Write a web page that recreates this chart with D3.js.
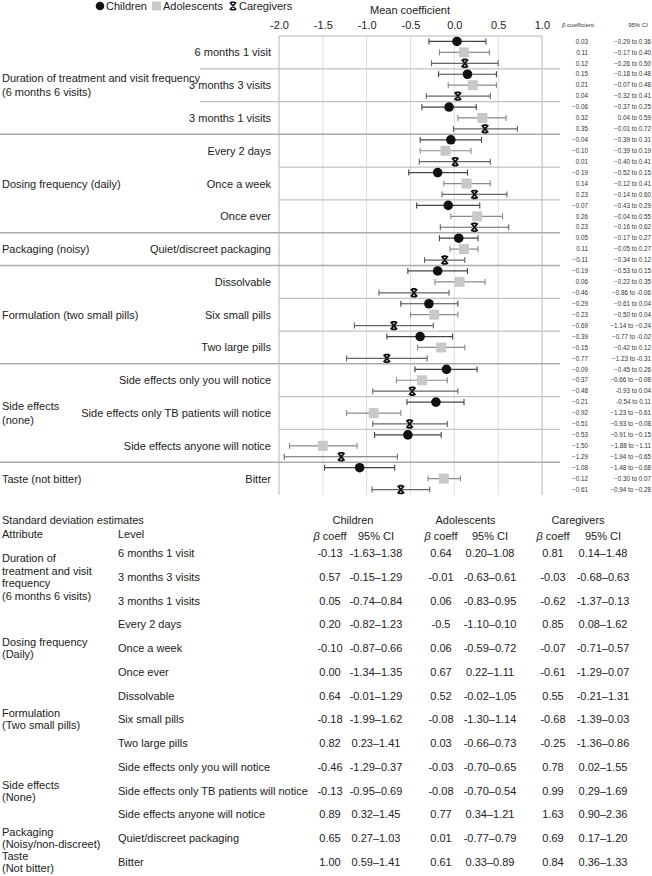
<!DOCTYPE html>
<html><head><meta charset="utf-8">
<script src="https://cdn.jsdelivr.net/npm/d3@7"></script>
<style>
html,body{margin:0;padding:0;background:#fff;}
svg{display:block;font-family:"Liberation Sans",Arial,Helvetica,sans-serif;}
</style></head>
<body>
<svg id="chart" width="652" height="876"></svg>
<script>
// ---------- DATA: forest plot ----------
const series = ["Children", "Adolescents", "Caregivers"];
const groups = [
  "Duration of treatment and visit frequency|(6 months 6 visits)",
  "Dosing frequency (daily)",
  "Packaging (noisy)",
  "Formulation (two small pills)",
  "Side effects|(none)",
  "Taste (not bitter)"
];
const levelGroup = [0,0,0,1,1,1,2,3,3,3,4,4,4,5];
const levels = ["6 months 1 visit","3 months 3 visits","3 months 1 visits","Every 2 days","Once a week","Once ever","Quiet/discreet packaging","Dissolvable","Six small pills","Two large pills","Side effects only you will notice","Side effects only TB patients will notice","Side effects anyone will notice","Bitter"];
const childBeta = [0.03,0.15,-0.06,-0.04,-0.19,-0.07,0.05,-0.19,-0.29,-0.39,-0.09,-0.21,-0.53,-1.08];
const childLo   = [-0.29,-0.18,-0.37,-0.39,-0.52,-0.43,-0.17,-0.53,-0.61,-0.77,-0.45,-0.54,-0.91,-1.48];
const childHi   = [0.36,0.48,0.25,0.31,0.15,0.29,0.27,0.15,0.04,-0.02,0.26,0.11,-0.15,-0.68];
const adolBeta  = [0.11,0.21,0.32,-0.10,0.14,0.26,0.11,0.06,-0.23,-0.15,-0.37,-0.92,-1.50,-0.12];
const adolLo    = [-0.17,-0.07,0.04,-0.39,-0.12,-0.04,-0.05,-0.22,-0.50,-0.42,-0.66,-1.23,-1.88,-0.30];
const adolHi    = [0.40,0.48,0.59,0.19,0.41,0.55,0.27,0.35,0.04,0.12,-0.08,-0.61,-1.11,0.07];
const careBeta  = [0.12,0.04,0.35,0.01,0.23,0.23,-0.11,-0.46,-0.69,-0.77,-0.48,-0.51,-1.29,-0.61];
const careLo    = [-0.26,-0.32,-0.01,-0.40,-0.14,-0.16,-0.34,-0.86,-1.14,-1.23,-0.93,-0.93,-1.94,-0.94];
const careHi    = [0.50,0.41,0.72,0.41,0.60,0.62,0.12,-0.06,-0.24,-0.31,0.04,-0.08,-0.65,-0.28];
const childCIText = ["\u22120.29 to 0.36","\u22120.18 to 0.48","\u22120.37 to 0.25","\u22120.39 to 0.31","\u22120.52 to 0.15","\u22120.43 to 0.29","\u22120.17 to 0.27","\u22120.53 to 0.15","\u22120.61 to 0.04","\u22120.77 to -0.02","\u22120.45 to 0.26","-0.54 to 0.11","\u22120.91 to \u22120.15","\u22121.48 to \u22120.68"];
const adolCIText  = ["\u22120.17 to 0.40","\u22120.07 to 0.48","0.04 to 0.59","\u22120.39 to 0.19","\u22120.12 to 0.41","\u22120.04 to 0.55","\u22120.05 to 0.27","\u22120.22 to 0.35","\u22120.50 to 0.04","\u22120.42 to 0.12","\u22120.66 to \u22120.08","\u22121.23 to \u22120.61","\u22121.88 to \u22121.11","\u22120.30 to 0.07"];
const careCIText  = ["\u22120.26 to 0.50","\u22120.32 to 0.41","\u22120.01 to 0.72","\u22120.40 to 0.41","\u22120.14 to 0.60","\u22120.16 to 0.62","\u22120.34 to 0.12","\u22120.86 to -0.06","\u22121.14 to \u22120.24","\u22121.23 to -0.31","-0.93 to  0.04","\u22120.93 to \u22120.08","\u22121.94 to \u22120.65","\u22120.94 to \u22120.28"];
const xTicks = [-2,-1.5,-1,-0.5,0,0.5,1];
const xTickLabels = ["-2.0","-1.5","-1.0","-0.5","0.0","0.5","1.0"];

// ---------- DATA: SD table ----------
const sdAttributes = [
  {label:["Duration of","treatment and visit","frequency","(6 months 6 visits)"], rows:[0,2]},
  {label:["Dosing frequency","(Daily)"], rows:[3,5]},
  {label:["Formulation","(Two small pills)"], rows:[6,8]},
  {label:["Side effects","(None)"], rows:[9,11]},
  {label:["Packaging","(Noisy/non-discreet)"], rows:[12,12]},
  {label:["Taste","(Not bitter)"], rows:[13,13]}
];
const sdLevels = ["6 months 1 visit","3 months 3 visits","3 months 1 visits","Every 2 days","Once a week","Once ever","Dissolvable","Six small pills","Two large pills","Side effects only you will notice","Side effects only TB patients will notice","Side effects anyone will notice","Quiet/discreet packaging","Bitter"];
const sdChildBeta = ["-0.13","0.57","0.05","0.20","-0.10","0.00","0.64","-0.18","0.82","-0.46","-0.13","0.89","0.65","1.00"];
const sdChildCI   = ["-1.63\u20131.38","-0.15\u20131.29","-0.74\u20130.84","-0.82\u20131.23","-0.87\u20130.66","-1.34\u20131.35","-0.01\u20131.29","-1.99\u20131.62","0.23\u20131.41","-1.29\u20130.37","-0.95\u20130.69","0.32\u20131.45","0.27\u20131.03","0.59\u20131.41"];
const sdAdolBeta  = ["0.64","-0.01","0.06","-0.5","0.06","0.67","0.52","-0.08","0.03","-0.03","-0.08","0.77","0.01","0.61"];
const sdAdolCI    = ["0.20\u20131.08","-0.63\u20130.61","-0.83\u20130.95","-1.10\u20130.10","-0.59\u20130.72","0.22\u20131.11","-0.02\u20131.05","-1.30\u20131.14","-0.66\u20130.73","-0.70\u20130.65","-0.70\u20130.54","0.34\u20131.21","-0.77\u20130.79","0.33\u20130.89"];
const sdCareBeta  = ["0.81","-0.03","-0.62","0.85","-0.07","-0.61","0.55","-0.68","-0.25","0.78","0.99","1.63","0.69","0.84"];
const sdCareCI    = ["0.14\u20131.48","-0.68\u20130.63","-1.37\u20130.13","0.08\u20131.62","-0.71\u20130.57","-1.29\u20130.07","-0.21\u20131.31","-1.39\u20130.03","-1.36\u20130.86","0.02\u20131.55","0.29\u20131.69","0.90\u20132.36","0.17\u20131.20","0.36\u20131.33"];

// ---------- BUILD ----------
const svg = d3.select("#chart");
const panel = {left:279, right:542, top:36, bottom:495};
const x = d3.scaleLinear().domain([-2,1]).range([panel.left, panel.right]);
const yLevel = d3.scaleBand().domain(d3.range(levels.length)).range([panel.top, panel.bottom]).padding(0);
const ySeries = d3.scaleBand().domain(series).range([0, yLevel.bandwidth()]).padding(0);

const seriesData = [
  {name:"Children", beta:childBeta, lo:childLo, hi:childHi, ci:childCIText, bar:"#444"},
  {name:"Adolescents", beta:adolBeta, lo:adolLo, hi:adolHi, ci:adolCIText, bar:"#8a8a8a"},
  {name:"Caregivers", beta:careBeta, lo:careLo, hi:careHi, ci:careCIText, bar:"#666"}
];
const fmtBeta = v => d3.format(".2f")(v).replace("-", "\u2212");
const careSymbol = "M-3.2,-3.8L3.2,3.8M3.2,-3.8L-3.2,3.8M-2,-3.8L2,-3.8M-2,3.8L2,3.8M0,-1.6L0,1.6";

// Gridlines
svg.append("g").selectAll("line").data(xTicks).join("line")
  .attr("x1", d=>x(d)).attr("x2", d=>x(d))
  .attr("y1", panel.top).attr("y2", panel.bottom)
  .attr("stroke", (d,i)=> (i===0||i===xTicks.length-1) ? "#b5b5b5" : "#dedede")
  .attr("stroke-width", 1);
svg.append("line").attr("x1", panel.left).attr("x2", panel.right)
  .attr("y1", panel.top).attr("y2", panel.top).attr("stroke", "#b5b5b5");

// Axis (top)
const axis = d3.axisTop(x).tickValues(xTicks).tickSize(0).tickPadding(7)
  .tickFormat((d,i)=>xTickLabels[i]);
const ag = svg.append("g").attr("transform", `translate(0,${panel.top})`).call(axis);
ag.select(".domain").remove();
ag.selectAll("text").attr("font-size", 11).attr("fill", "#222")
  .attr("font-family", '"Liberation Sans",Arial,sans-serif');

svg.append("text").attr("x", 410).attr("y", 14).attr("text-anchor","middle")
  .attr("font-size", 11).attr("fill","#222").text("Mean coefficient");

// Separators
const sepX2 = 560;
for (let i = 1; i < levels.length; i++) {
  const yy = yLevel(i);
  const newGroup = levelGroup[i] !== levelGroup[i-1];
  let x1 = panel.left;
  if (newGroup) x1 = 0;
  else if (levelGroup[i] === 0) x1 = 200;
  svg.append("line").attr("x1", x1).attr("x2", sepX2).attr("y1", yy).attr("y2", yy)
    .attr("stroke", newGroup ? "#ababab" : "#c2c2c2").attr("stroke-width", newGroup ? 1.5 : 1.2);
}

// Group labels
d3.range(groups.length).forEach(g => {
  const idx = levelGroup.map((v,i)=>v===g?i:-1).filter(i=>i>=0);
  const y0 = yLevel(idx[0]), y1 = yLevel(idx[idx.length-1]) + yLevel.bandwidth();
  const cy = (y0+y1)/2;
  const lines = groups[g].split("|");
  const t = svg.append("text").attr("x", 2).attr("font-size", 11).attr("fill","#222");
  lines.forEach((ln,k)=>{
    t.append("tspan").attr("x",2).attr("y", cy + 4 + (k-(lines.length-1)/2)*14).text(ln);
  });
});

// Level labels
svg.append("g").selectAll("text").data(levels).join("text")
  .attr("x", 271).attr("y", (d,i)=> yLevel(i) + yLevel.bandwidth()/2 + 4)
  .attr("text-anchor","end").attr("font-size", 11).attr("fill","#222").text(d=>d);

// Right columns header
svg.append("text").attr("x", 578).attr("y", 27).attr("text-anchor","middle")
  .attr("font-size", 6).attr("fill","#333")
  .html('<tspan font-style="italic">\u03b2</tspan> coefficient');
svg.append("text").attr("x", 638).attr("y", 27).attr("text-anchor","middle")
  .attr("font-size", 6).attr("fill","#333").text("95% CI");

// Marks
seriesData.forEach(s => {
  const g = svg.append("g");
  const ys = i => yLevel(i) + ySeries(s.name) + ySeries.bandwidth()/2;
  const idx = d3.range(levels.length);
  g.selectAll("line.ci").data(idx).join("line").attr("class","ci")
    .attr("x1", i=>x(s.lo[i])).attr("x2", i=>x(s.hi[i]))
    .attr("y1", ys).attr("y2", ys).attr("stroke", s.bar).attr("stroke-width", 1.2);
  ["lo","hi"].forEach(k => {
    g.selectAll("line.cap"+k).data(idx).join("line").attr("class","cap"+k)
      .attr("x1", i=>x(s[k][i])).attr("x2", i=>x(s[k][i]))
      .attr("y1", i=>ys(i)-3).attr("y2", i=>ys(i)+3).attr("stroke", s.bar).attr("stroke-width", 1.1);
  });
  if (s.name === "Children") {
    g.selectAll("circle").data(idx).join("circle")
      .attr("cx", i=>x(s.beta[i])).attr("cy", ys).attr("r", 4.8).attr("fill", "#111");
  } else if (s.name === "Adolescents") {
    g.selectAll("rect").data(idx).join("rect")
      .attr("x", i=>x(s.beta[i])-5).attr("y", i=>ys(i)-5).attr("width", 10).attr("height", 10)
      .attr("fill", "#c9c9c9");
  } else {
    g.selectAll("path").data(idx).join("path")
      .attr("transform", i=>`translate(${x(s.beta[i])},${ys(i)})`)
      .attr("d", careSymbol)
      .attr("stroke", "#111").attr("stroke-width", 1.8).attr("fill","none");
  }
  g.selectAll("text.b").data(idx).join("text").attr("class","b")
    .attr("x", 588).attr("y", i=>ys(i)+2.2).attr("text-anchor","end")
    .attr("font-size", 6.3).attr("fill","#333").text(i=>fmtBeta(s.beta[i]));
  g.selectAll("text.c").data(idx).join("text").attr("class","c")
    .attr("x", 651).attr("y", i=>ys(i)+2.2).attr("text-anchor","end")
    .attr("font-size", 6.3).attr("fill","#333").text(i=>s.ci[i]);
});

// Legend
const leg = svg.append("g").attr("font-size", 11).attr("fill", "#222");
const legY = 6;
leg.append("circle").attr("cx", 100).attr("cy", legY).attr("r", 4.3).attr("fill","#111");
leg.append("text").attr("x", 106).attr("y", legY+4).text(series[0]);
leg.append("rect").attr("x", 152).attr("y", legY-4.5).attr("width", 9).attr("height", 9).attr("fill","#c9c9c9");
leg.append("text").attr("x", 163).attr("y", legY+4).text(series[1]);
leg.append("path").attr("transform", `translate(233,${legY})`)
  .attr("d", careSymbol)
  .attr("stroke","#111").attr("stroke-width",1.5).attr("fill","none");
leg.append("text").attr("x", 239).attr("y", legY+4).text(series[2]);

// ---------- SD TABLE ----------
const rowY = d3.scaleLinear().domain([0, 13]).range([553, 862]);
const tbl = svg.append("g").attr("font-size", 11).attr("fill", "#222");
tbl.append("text").attr("x", 2).attr("y", 524).text("Standard deviation estimates");
tbl.append("text").attr("x", 2).attr("y", 538).text("Attribute");
tbl.append("text").attr("x", 118).attr("y", 538).text("Level");
const colHead = [{name:"Children", b:330, c:376}, {name:"Adolescents", b:441, c:490}, {name:"Caregivers", b:553, c:603}];
colHead.forEach(cHd => {
  tbl.append("text").attr("x", (cHd.b+cHd.c)/2).attr("y", 524).attr("text-anchor","middle").text(cHd.name);
  tbl.append("text").attr("x", cHd.b).attr("y", 540).attr("text-anchor","middle")
    .html('<tspan font-style="italic">\u03b2</tspan> coeff');
  tbl.append("text").attr("x", cHd.c).attr("y", 540).attr("text-anchor","middle").text("95% CI");
});
tbl.selectAll("text.lvl").data(sdLevels).join("text").attr("class","lvl")
  .attr("x", 118).attr("y", (d,i)=>rowY(i)+4).text(d=>d);
const cols = [
  [sdChildBeta, colHead[0].b], [sdChildCI, colHead[0].c],
  [sdAdolBeta, colHead[1].b], [sdAdolCI, colHead[1].c],
  [sdCareBeta, colHead[2].b], [sdCareCI, colHead[2].c]
];
cols.forEach(([arr, cx]) => {
  tbl.append("g").selectAll("text").data(arr).join("text")
    .attr("x", cx).attr("y", (d,i)=>rowY(i)+4).attr("text-anchor","middle").text(d=>d);
});
sdAttributes.forEach(a => {
  const cy = (rowY(a.rows[0]) + rowY(a.rows[1]))/2;
  const n = a.label.length;
  const lh = n > 2 ? 12.5 : 12;
  const t = tbl.append("text").attr("x", 2);
  a.label.forEach((ln,k)=>{
    t.append("tspan").attr("x", 2).attr("y", cy + 4 + (k-(n-1)/2)*lh).text(ln);
  });
});
</script>
</body></html>
